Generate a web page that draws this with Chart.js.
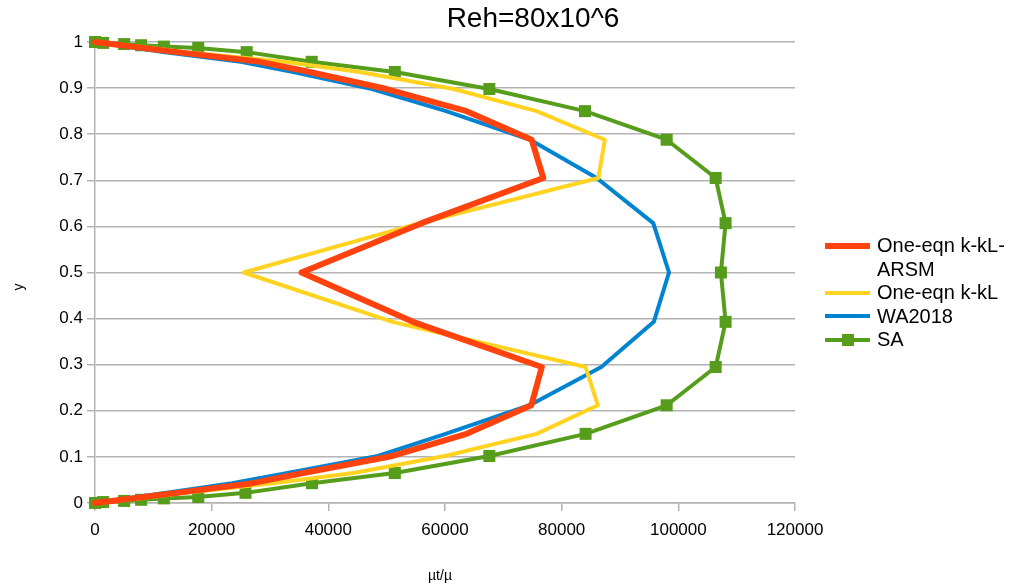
<!DOCTYPE html>
<html>
<head>
<meta charset="utf-8">
<script src="https://cdn.jsdelivr.net/npm/chart.js@4.4.1/dist/chart.umd.min.js"></script>
<style>
  html, body { margin: 0; padding: 0; background: #fff; }
  #wrap { position: relative; width: 1015px; height: 588px; font-family: "Liberation Sans", Arial, sans-serif; }
  #chart-title { position: absolute; left: 433px; width: 200px; top: 2px; text-align: center; font-size: 28px; color: #000; white-space: nowrap; }
  .axis-title { position: absolute; font-size: 14px; color: #000; white-space: nowrap; width: 60px; text-align: center; line-height: 16px; }
  #x-title { left: 410px; top: 567px; }
  #y-title { left: -12px; top: 279px; transform: rotate(-90deg); }
  #legend { position: absolute; left: 825px; top: 234px; font-size: 20px; color: #000; }
  .item { position: relative; padding-left: 52px; line-height: 23.5px; }
  .swatch { position: absolute; left: 0; width: 45px; }
  .marker { position: absolute; left: 17px; width: 12px; height: 12px; }
</style>
</head>
<body>
<div id="wrap">
  <canvas id="profile-chart" width="1015" height="588"></canvas>
  <div id="chart-title">Reh=80x10^6</div>
  <div class="axis-title" id="x-title">µt/µ</div>
  <div class="axis-title" id="y-title">y</div>
  <div id="legend"></div>
</div>
<script>
// wall-normal coordinate shared by all four models
const yCoord = [0, 0.002, 0.0045, 0.007, 0.010, 0.013, 0.022, 0.043, 0.065, 0.102, 0.150, 0.212, 0.295, 0.393, 0.5,
  0.607, 0.705, 0.788, 0.850, 0.898, 0.935, 0.957, 0.978, 0.987, 0.990, 0.993, 0.9955, 0.998, 1];

// eddy viscosity ratio mu_t/mu for each model
const arsmVisc = [0, 1300, 2900, 4500, 6400, 8300, 14000, 27000, 35700, 51000, 63700, 74800, 76600, 54500, 35400,
  56000, 76850, 74850, 63700, 50000, 36800, 28300, 14000, 8300, 6400, 4500, 2900, 1300, 0];
const kklVisc = [0, 1500, 3300, 5200, 7400, 9600, 15500, 30500, 44300, 60000, 75700, 86200, 84100, 51000, 25500,
  55700, 86300, 87400, 75700, 61500, 45400, 32500, 15500, 9600, 7400, 5200, 3300, 1500, 0];
const wa2018Visc = [0, 1100, 2500, 3800, 5400, 7000, 12000, 23500, 33000, 48500, 60100, 74500, 86800, 95800, 98400,
  95700, 86000, 74600, 60200, 47500, 34000, 25000, 12000, 7000, 5400, 3800, 2500, 1100, 0];
const saVisc = [0, 1400, 5000, 7900, 11800, 17700, 25800, 37200, 51400, 67600, 84100, 98000, 106400, 108100, 107300,
  108100, 106400, 98000, 84000, 67600, 51400, 37150, 26000, 17700, 11800, 7900, 5000, 1400, 0];

const xTicks = [0, 20000, 40000, 60000, 80000, 100000, 120000];
const yTicks = [0, 0.1, 0.2, 0.3, 0.4, 0.5, 0.6, 0.7, 0.8, 0.9, 1];

const series = [
  { label: ['One-eqn k-kL-', 'ARSM'], values: arsmVisc, color: '#ff420e', width: 6 },
  { label: ['One-eqn k-kL'], values: kklVisc, color: '#ffd320', width: 4 },
  { label: ['WA2018'], values: wa2018Visc, color: '#0084d1', width: 4 },
  { label: ['SA'], values: saVisc, color: '#579d1c', width: 4, marker: true },
];

const toPoints = (vals) => vals.map((v, i) => ({ x: v, y: yCoord[i] }));
const gridGrey = '#b3b3b3';
const tickFont = { family: '"Liberation Sans", Arial, sans-serif', size: 17 };

const ctx = document.getElementById('profile-chart').getContext('2d');
new Chart(ctx, {
  type: 'scatter',
  data: {
    datasets: series.map((s) => ({
      label: s.label.join(' '),
      data: toPoints(s.values),
      showLine: true,
      borderColor: s.color,
      backgroundColor: s.color,
      borderWidth: s.width,
      borderJoinStyle: 'round',
      borderCapStyle: 'round',
      tension: 0,
      pointStyle: 'rect',
      pointRadius: s.marker ? 8.5 : 0,
      pointHoverRadius: s.marker ? 8.5 : 0,
      pointBorderWidth: 0,
      clip: false,
    })),
  },
  options: {
    responsive: false,
    animation: false,
    layout: { padding: { left: 0, top: 42, right: 220, bottom: 0 } },
    plugins: { legend: { display: false }, tooltip: { enabled: false } },
    scales: {
      x: {
        type: 'linear',
        min: 0,
        max: 120000,
        afterBuildTicks: (scale) => { scale.ticks = xTicks.map((v) => ({ value: v })); },
        afterFit: (scale) => { scale.height = 85; },
        ticks: { callback: (v) => String(v), color: '#000', font: tickFont, padding: 9, maxRotation: 0 },
        grid: { drawOnChartArea: false, drawTicks: true, tickLength: 8, color: gridGrey, lineWidth: 1.5 },
        border: { display: true, color: gridGrey, width: 1.5 },
      },
      y: {
        type: 'linear',
        min: 0,
        max: 1,
        afterBuildTicks: (scale) => { scale.ticks = yTicks.map((v) => ({ value: v })); },
        afterFit: (scale) => { scale.width = 95; },
        ticks: { callback: (v) => String(v), color: '#000', font: tickFont, padding: 4 },
        grid: { drawTicks: true, tickLength: 8, color: gridGrey, lineWidth: 1.5 },
        border: { display: true, color: gridGrey, width: 1.5 },
      },
    },
  },
});

// legend on the right, long label wraps onto two lines
const legend = document.getElementById('legend');
series.forEach((s) => {
  const item = document.createElement('div');
  item.className = 'item';
  item.innerHTML = s.label.join('<br>');
  const sw = document.createElement('div');
  sw.className = 'swatch';
  sw.style.top = (11.75 - s.width / 2) + 'px';
  sw.style.height = s.width + 'px';
  sw.style.background = s.color;
  item.appendChild(sw);
  if (s.marker) {
    const m = document.createElement('div');
    m.className = 'marker';
    m.style.top = '5.75px';
    m.style.background = s.color;
    item.appendChild(m);
  }
  legend.appendChild(item);
});
</script>
</body>
</html>
